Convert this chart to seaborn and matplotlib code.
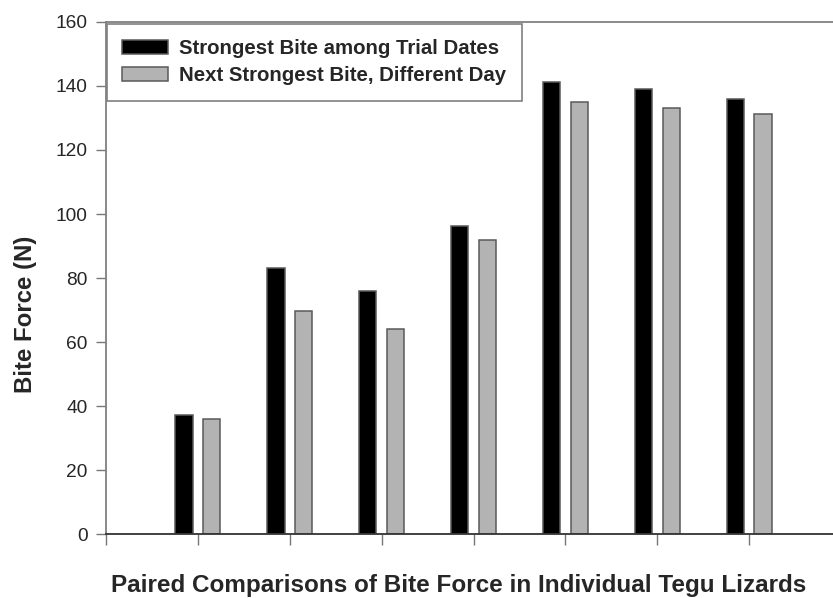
import pandas as pd
import numpy as np
import seaborn as sns
import matplotlib.pyplot as plt

# Data (bite force, N)
lizards = [1, 2, 3, 4, 5, 6, 7]
strongest = [37.2, 83.0, 76.0, 96.3, 141.2, 139.0, 136.0]
next_strongest = [36.0, 69.6, 64.0, 92.0, 135.0, 133.0, 131.1]
series_names = ["Strongest Bite among Trial Dates", "Next Strongest Bite, Different Day"]
y_ticks = [0, 20, 40, 60, 80, 100, 120, 140, 160]

df = pd.DataFrame({
    "lizard": lizards * 2,
    "force": strongest + next_strongest,
    "series": [series_names[0]] * len(lizards) + [series_names[1]] * len(lizards),
})

sns.set_style("white")
plt.rcParams["font.family"] = ["Liberation Sans", "DejaVu Sans"]

fig = plt.figure(figsize=(8.33, 5.98), dpi=100)
ax = fig.add_axes([0.127, 0.1062, 0.873, 0.8575])

sns.barplot(data=df, x="lizard", y="force", hue="series", native_scale=True,
            palette=["#000000", "#b3b3b3"], width=0.6, gap=0.37,
            edgecolor="#5a5a5a", linewidth=1.1, errorbar=None, ax=ax)

ax.set_xlim(0, 7.91)
ax.set_ylim(0, 160)
ax.set_xticks(range(0, 8))
ax.set_xticklabels([])
ax.set_yticks(y_ticks)
ax.tick_params(axis="y", direction="out", length=7, width=1, color="#777777",
               labelsize=13.8, pad=6, left=True)
ax.tick_params(axis="x", direction="out", length=8, width=1, color="#777777", bottom=True)

for side in ["left", "top"]:
    ax.spines[side].set_color("#808080")
    ax.spines[side].set_linewidth(1.3)
ax.spines["bottom"].set_color("#333333")
ax.spines["bottom"].set_linewidth(1.3)
ax.spines["right"].set_visible(False)

ax.set_xlabel("Paired Comparisons of Bite Force in Individual Tegu Lizards",
              fontsize=17.5, fontweight="bold")
ax.xaxis.set_label_coords(0.485, -0.077)
ax.set_ylabel("Bite Force (N)", fontsize=17.3, fontweight="bold")
ax.yaxis.set_label_coords(-0.094, 0.43)

leg = ax.legend(loc="upper left", bbox_to_anchor=(0.0016, 0.9955), frameon=True,
                fancybox=False, edgecolor="#808080", framealpha=1,
                prop={"size": 14.7, "weight": "bold"}, handlelength=2.25,
                handleheight=0.68, handletextpad=0.55, labelspacing=0.4,
                borderpad=0.75, borderaxespad=0)
leg.get_frame().set_linewidth(1.2)

fig.savefig("out.png", dpi=100)
